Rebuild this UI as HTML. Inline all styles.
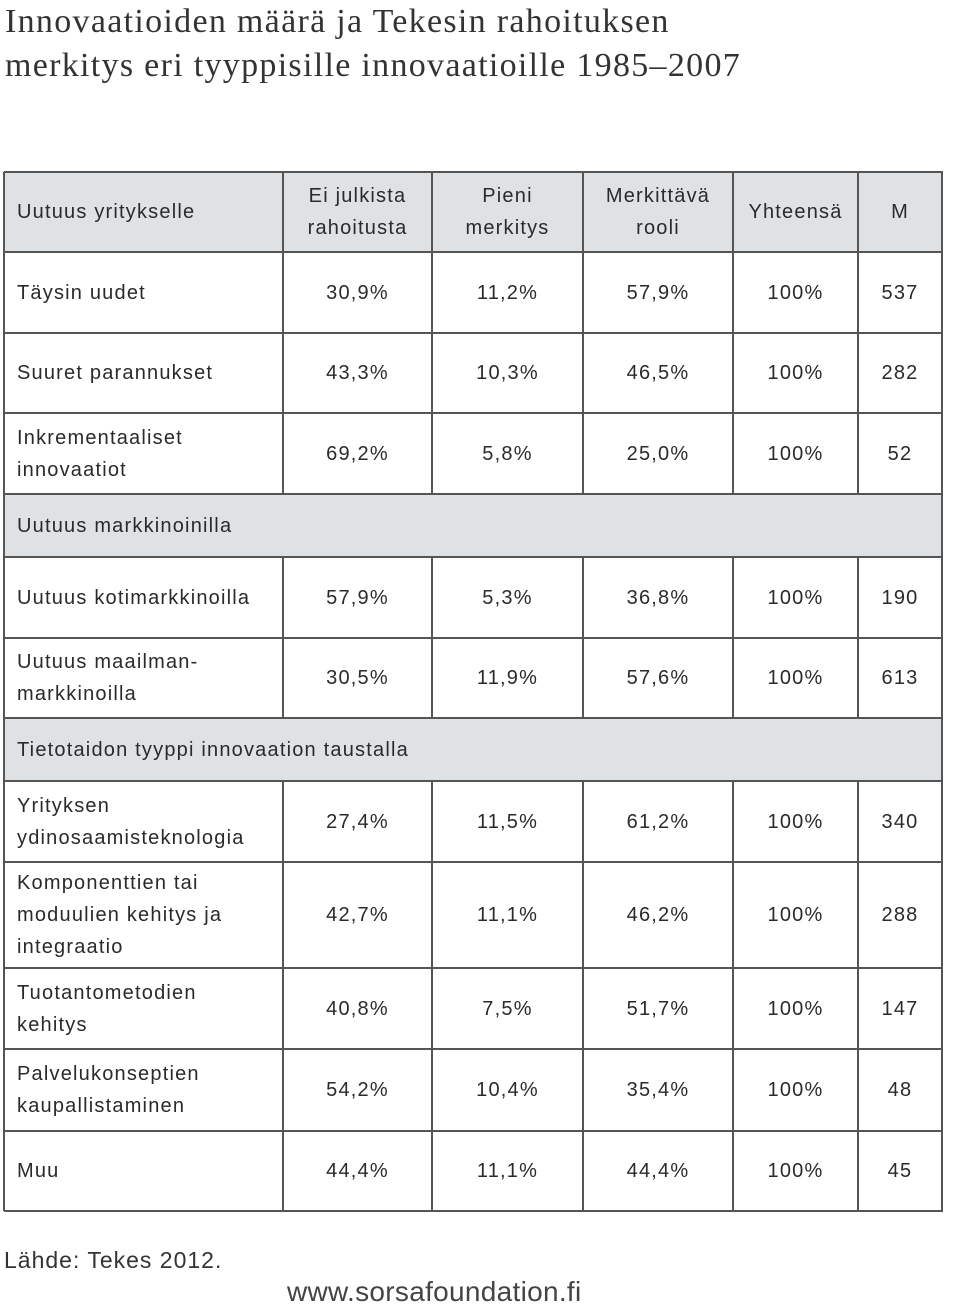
<!DOCTYPE html>
<html><head><meta charset="utf-8">
<style>
body{margin:0;width:960px;height:1305px;background:#fff;position:relative;overflow:hidden;font-family:"Liberation Sans",sans-serif;}
.t{position:absolute;left:5px;font-family:"Liberation Serif",serif;font-size:34px;color:#333;letter-spacing:1.3px;white-space:nowrap}
.c{position:absolute;display:flex;align-items:center;box-sizing:border-box;color:#2a2a2a;font-size:20px;line-height:32px;letter-spacing:1.2px}
.l{padding-left:13px}
.n{justify-content:center;text-align:center}
.hl{position:absolute;background:#555;height:2px}
.vl{position:absolute;background:#555;width:2px}
</style></head><body>
<div class="t" style="top:3px">Innovaatioiden määrä ja Tekesin rahoituksen</div>
<div class="t" style="top:47px">merkitys eri tyyppisille innovaatioille 1985–2007</div>
<div id="tbl"></div>
<div style="position:absolute;left:4px;top:1247px;font-size:23px;color:#333;letter-spacing:1px">Lähde: Tekes 2012.</div>
<div style="position:absolute;left:287px;top:1276px;font-size:28px;color:#444;letter-spacing:0.3px">www.sorsafoundation.fi</div>
<script>
const colX=[4,283,432,583,733,858,942];
const rowY=[172,252,333,413,494,557,638,718,781,862,968,1049,1131,1211];
const headers=["Uutuus yritykselle","Ei julkista<br>rahoitusta","Pieni<br>merkitys","Merkittävä<br>rooli","Yhteensä","M"];
const labels=["Täysin uudet","Suuret parannukset","Inkrementaaliset<br>innovaatiot",null,"Uutuus kotimarkkinoilla","Uutuus maailman-<br>markkinoilla",null,"Yrityksen<br>ydinosaamisteknologia","Komponenttien tai<br>moduulien kehitys ja<br>integraatio","Tuotantometodien<br>kehitys","Palvelukonseptien<br>kaupallistaminen","Muu"];
const sections=[null,null,null,"Uutuus markkinoinilla",null,null,"Tietotaidon tyyppi innovaation taustalla",null,null,null,null,null];
const vals=[["30,9%","11,2%","57,9%","100%","537"],["43,3%","10,3%","46,5%","100%","282"],["69,2%","5,8%","25,0%","100%","52"],null,["57,9%","5,3%","36,8%","100%","190"],["30,5%","11,9%","57,6%","100%","613"],null,["27,4%","11,5%","61,2%","100%","340"],["42,7%","11,1%","46,2%","100%","288"],["40,8%","7,5%","51,7%","100%","147"],["54,2%","10,4%","35,4%","100%","48"],["44,4%","11,1%","44,4%","100%","45"]];
const tbl=document.getElementById('tbl');
function cell(x,y,w,h,html,cls,bg){const d=document.createElement('div');d.className='c '+cls;d.style.left=x+'px';d.style.top=y+'px';d.style.width=w+'px';d.style.height=h+'px';if(bg)d.style.background=bg;d.innerHTML=html;tbl.appendChild(d);return d;}
for(let i=0;i<6;i++){
  const d=cell(colX[i],rowY[0],colX[i+1]-colX[i],rowY[1]-rowY[0],headers[i],i==0?'l':'n','#dfe2e5');
  
  
}
for(let r=0;r<labels.length;r++){
  const y=rowY[r+1],h=rowY[r+2]-y;
  if(sections[r]){
    const d=cell(colX[0],y,colX[6]-colX[0],h,sections[r],'l','#dfe2e5');
    
    
    continue;
  }
  const d=cell(colX[0],y,colX[1]-colX[0],h,labels[r],'l');
  
  
  for(let c=0;c<5;c++){
    const v=cell(colX[c+1],y,colX[c+2]-colX[c+1],h,vals[r][c],'n');
    
    
  }
}
rowY.forEach(y=>{const l=document.createElement('div');l.className='hl';l.style.left=colX[0]+'px';l.style.top=(y-1)+'px';l.style.width=(colX[6]-colX[0]+1)+'px';


tbl.appendChild(l);});
for(let i=0;i<colX.length;i++){
  for(let r=0;r<rowY.length-1;r++){
    const isSec=r>0&&sections[r-1];
    if(isSec&&i>0&&i<6)continue;
    const l=document.createElement('div');l.className='vl';l.style.left=(colX[i]-1)+'px';l.style.top=rowY[r]+'px';l.style.height=(rowY[r+1]-rowY[r])+'px';
    
    
    tbl.appendChild(l);
  }
}
</script>
</body></html>
